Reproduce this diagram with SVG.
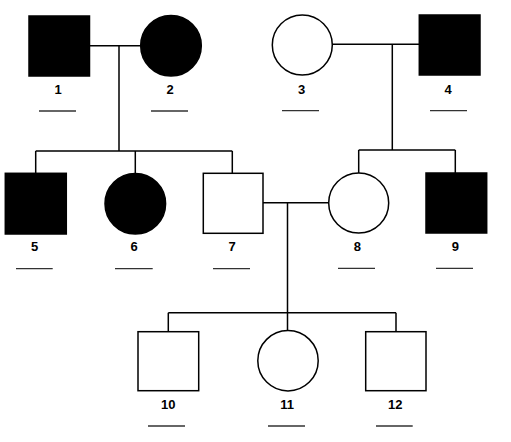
<svg xmlns="http://www.w3.org/2000/svg" width="511" height="442" viewBox="0 0 511 442">
<style>
.s{stroke:#000;stroke-width:1.5;fill:#fff}
.a{fill:#000;stroke:#000;stroke-width:1.5}
.c{stroke:#000;stroke-width:1.5;fill:none}
.u{stroke:#333;stroke-width:1.3}
text{font-family:"Liberation Sans",Arial,sans-serif;font-size:13px;font-weight:bold;text-anchor:middle;fill:#000}
</style>
<rect width="511" height="442" fill="#fff"/>
<g id="connectors">
<path class="c" d="M90 45.7H140M119 45.7V151M35.7 151H232.3M35.7 151V173.3M135.3 151V173M232.3 151V173.3"/>
<path class="c" d="M332 44.3H419.3M392.3 44.3V150M358.7 150H455.3M358.7 150V173M455.3 150V173"/>
<path class="c" d="M263 202.7H328.7M287.5 202.7V330.5M168.3 312.7H396M168.3 312.7V331.7M396 312.7V331.7"/>
</g>
<g id="n1"><rect class="a" x="29" y="16" width="60.5" height="60"/><text x="58" y="94">1</text><line class="u" x1="39" y1="111" x2="76" y2="111"/></g>
<g id="n2"><circle class="a" cx="171" cy="45.7" r="30.3"/><text x="170" y="94">2</text><line class="u" x1="151" y1="111" x2="188" y2="111"/></g>
<g id="n3"><circle class="s" cx="302.3" cy="45" r="30"/><text x="301.7" y="93.5">3</text><line class="u" x1="282" y1="110.7" x2="319" y2="110.7"/></g>
<g id="n4"><rect class="a" x="419.3" y="15" width="60.7" height="60"/><text x="448" y="93.5">4</text><line class="u" x1="430" y1="110.7" x2="467" y2="110.7"/></g>
<g id="n5"><rect class="a" x="5.3" y="173.3" width="61" height="60.7"/><text x="34.7" y="250.7">5</text><line class="u" x1="16" y1="268.7" x2="52.7" y2="268.7"/></g>
<g id="n6"><circle class="a" cx="135.3" cy="203.7" r="30.3"/><text x="134" y="250.7">6</text><line class="u" x1="115" y1="268.7" x2="152.7" y2="268.7"/></g>
<g id="n7"><rect class="s" x="203.3" y="173.3" width="59.7" height="60"/><text x="232" y="250.7">7</text><line class="u" x1="213" y1="268.7" x2="250" y2="268.7"/></g>
<g id="n8"><circle class="s" cx="358.7" cy="203" r="30"/><text x="357.3" y="250.7">8</text><line class="u" x1="338" y1="268.3" x2="375" y2="268.3"/></g>
<g id="n9"><rect class="a" x="426" y="173" width="60.7" height="60"/><text x="455.3" y="250.7">9</text><line class="u" x1="436" y1="268.3" x2="473" y2="268.3"/></g>
<g id="n10"><rect class="s" x="138" y="331.7" width="60.7" height="59"/><text x="168.3" y="408.7">10</text><line class="u" x1="148" y1="426" x2="185" y2="426"/></g>
<g id="n11"><circle class="s" cx="288" cy="360.7" r="30.2"/><text x="287" y="408.7">11</text><line class="u" x1="268" y1="426" x2="305" y2="426"/></g>
<g id="n12"><rect class="s" x="365.7" y="331.7" width="60.3" height="59"/><text x="395.3" y="408.7">12</text><line class="u" x1="376" y1="426" x2="412.7" y2="426"/></g>
</svg>
